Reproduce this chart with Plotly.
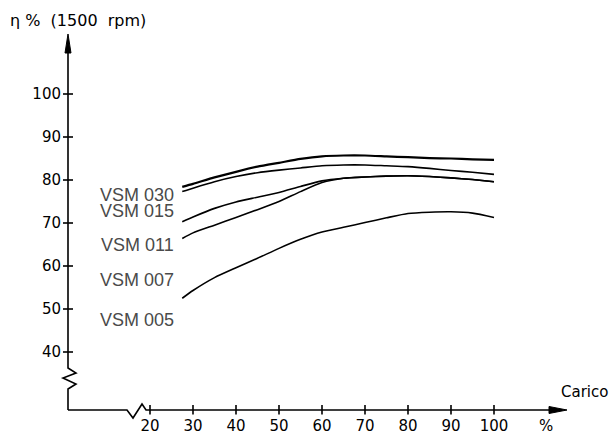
import plotly.graph_objects as go

# ---------------- data ----------------
carico = [27.5, 30, 35, 40, 45, 50, 55, 60, 65, 70, 75, 80, 85, 90, 95, 100]
vsm030 = [78.4, 79.1, 80.6, 81.9, 83.1, 84.0, 84.9, 85.5, 85.7, 85.7, 85.5, 85.3, 85.1, 85.0, 84.8, 84.7]
vsm015 = [77.3, 78.1, 79.6, 80.8, 81.7, 82.3, 82.8, 83.3, 83.5, 83.5, 83.3, 83.1, 82.7, 82.2, 81.8, 81.3]
vsm011 = [70.3, 71.4, 73.4, 74.9, 76.0, 77.1, 78.5, 79.8, 80.4, 80.7, 80.9, 81.0, 80.8, 80.5, 80.1, 79.6]
vsm007 = [66.4, 67.7, 69.5, 71.3, 73.1, 75.0, 77.3, 79.4, 80.4, 80.7, 80.9, 81.0, 80.8, 80.5, 80.1, 79.6]
vsm005 = [52.5, 54.3, 57.3, 59.6, 61.8, 64.1, 66.2, 67.9, 69.0, 70.1, 71.2, 72.2, 72.5, 72.6, 72.3, 71.3]
series = [vsm030, vsm015, vsm011, vsm007, vsm005]
series_widths = [2.2, 1.6, 1.6, 1.6, 1.6]

labels = ["VSM 030", "VSM 015", "VSM 011", "VSM 007", "VSM 005"]
y_ticks = [40, 50, 60, 70, 80, 90, 100]
x_ticks = [20, 30, 40, 50, 60, 70, 80, 90, 100]
title_text = "η %  (1500  rpm)"
x_title = "Carico"
x_unit = "%"

# ---------------- geometry (pixels) ----------------
W, H = 610, 434
L, R, T, B = 68, 43, 35, 24
PW, PH = W - L - R, H - T - B
SCALE = 4.3          # px per unit on both axes
X20_PX = 150.0       # pixel of x = 20
Y100_PX = 94.0       # pixel of y = 100


def xd(px):
    return 20 + (px - X20_PX) / SCALE


def yd(py):
    return 100 - (py - Y100_PX) / SCALE


def xp(px):  # pixel -> paper fraction
    return (px - L) / PW


def yp(py):
    return 1 - (py - T) / PH


def xpx(v):  # data -> pixel
    return X20_PX + (v - 20) * SCALE


def ypx(v):
    return Y100_PX + (100 - v) * SCALE


x_range = [xd(L), xd(W - R)]
y_range = [yd(H - B), yd(T)]

fig = go.Figure()
for vals, lw in zip(series, series_widths):
    fig.add_trace(go.Scatter(x=carico, y=vals, mode="lines",
                             line=dict(color="black", width=lw, shape="spline", smoothing=0.6),
                             hoverinfo="skip", showlegend=False, cliponaxis=False))

shapes = []
ax_col = "black"
ax_w = 1.6


def path(pts):
    return "M " + " L ".join(f"{xp(a):.5f},{yp(b):.5f}" for a, b in pts)


# y axis with break zigzag
shapes.append(dict(type="path", xref="paper", yref="paper",
                   path=path([(68, 410), (68, 389), (76, 384), (63, 378), (76, 373), (68, 368), (68, 50)]),
                   line=dict(color=ax_col, width=ax_w)))
# y arrow head
shapes.append(dict(type="path", xref="paper", yref="paper",
                   path=path([(68, 34), (65, 53), (71, 53)]) + " Z",
                   line=dict(color=ax_col, width=1), fillcolor=ax_col))
# x axis with break zigzag
shapes.append(dict(type="path", xref="paper", yref="paper",
                   path=path([(68, 410), (127, 410), (133, 418), (142, 404), (146, 410), (552, 410)]),
                   line=dict(color=ax_col, width=ax_w)))
# x arrow head
shapes.append(dict(type="path", xref="paper", yref="paper",
                   path=path([(567, 410), (549, 406.5), (549, 413.5)]) + " Z",
                   line=dict(color=ax_col, width=1), fillcolor=ax_col))
# tick marks
for v in y_ticks:
    shapes.append(dict(type="line", xref="paper", yref="paper", x0=xp(63), x1=xp(73),
                       y0=yp(ypx(v)), y1=yp(ypx(v)), line=dict(color=ax_col, width=ax_w)))
for v in x_ticks:
    shapes.append(dict(type="line", xref="paper", yref="paper", x0=xp(xpx(v)), x1=xp(xpx(v)),
                       y0=yp(405), y1=yp(414.5), line=dict(color=ax_col, width=ax_w)))

annotations = []
label_py = [194.5, 210.5, 245, 280, 320]
for txt, py in zip(labels, label_py):
    annotations.append(dict(x=xp(176), y=yp(py), xref="paper", yref="paper", text=txt, showarrow=False,
                            xanchor="right", yanchor="middle",
                            font=dict(family="Liberation Sans", size=18, color="#4a4a4a")))
annotations.append(dict(x=xp(8), y=yp(21), xref="paper", yref="paper", text=title_text,
                        showarrow=False, xanchor="left", yanchor="middle",
                        font=dict(family="DejaVu Sans", size=16, color="black")))
annotations.append(dict(x=xp(559), y=yp(392), xref="paper", yref="paper", text=x_title,
                        showarrow=False, xanchor="left", yanchor="middle",
                        font=dict(family="DejaVu Sans", size=15, color="black")))
annotations.append(dict(x=xp(546), y=yp(426), xref="paper", yref="paper", text=x_unit,
                        showarrow=False, xanchor="center", yanchor="middle",
                        font=dict(family="DejaVu Sans", size=15, color="black")))

fig.update_layout(
    width=W, height=H,
    margin=dict(l=L, r=R, t=T, b=B, pad=0, autoexpand=False),
    paper_bgcolor="white", plot_bgcolor="white",
    shapes=shapes, annotations=annotations,
    xaxis=dict(range=x_range, showgrid=False, zeroline=False, showline=False, automargin=False,
               tickmode="array", tickvals=x_ticks, ticktext=[str(v) for v in x_ticks],
               ticks="", ticklabelstandoff=5,
               tickfont=dict(family="DejaVu Sans", size=15, color="black"), fixedrange=True),
    yaxis=dict(range=y_range, showgrid=False, zeroline=False, showline=False, automargin=False,
               tickmode="array", tickvals=y_ticks, ticktext=[str(v) for v in y_ticks],
               ticks="", ticklabelstandoff=6,
               tickfont=dict(family="DejaVu Sans", size=15, color="black"), fixedrange=True),
    showlegend=False,
)

fig.write_html("out.html", config={"displayModeBar": False},
               post_script="document.body.style.margin='0';document.body.style.overflow='hidden';")
